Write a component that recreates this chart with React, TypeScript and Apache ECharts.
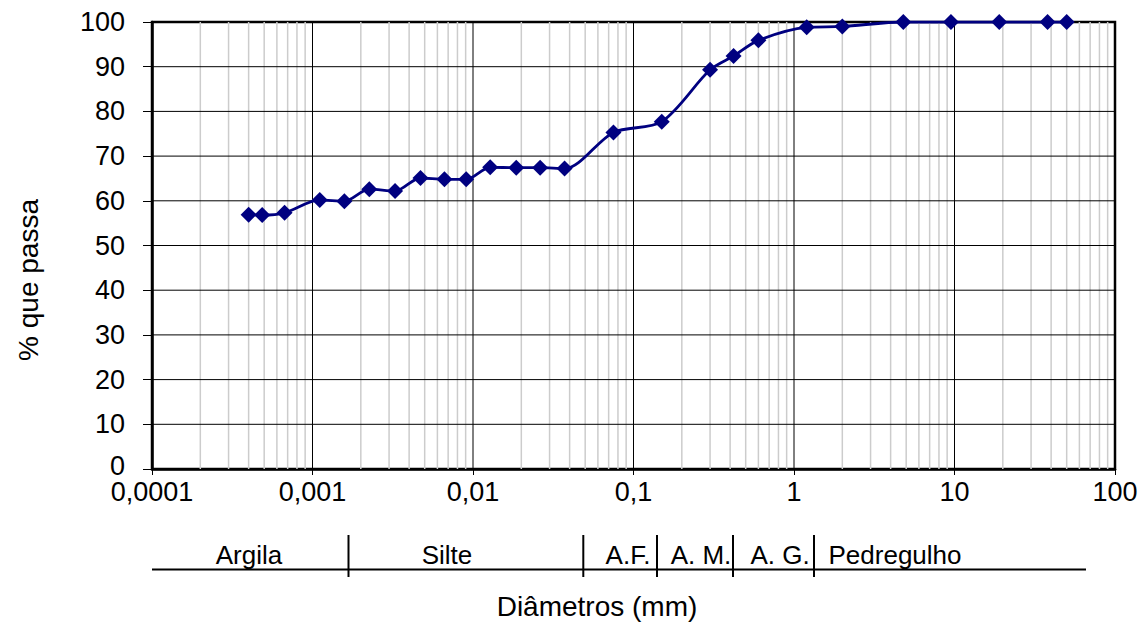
import React, { useEffect, useRef } from "react";
import * as echarts from "echarts";

// Grain-size distribution (diameters in mm, % passing)
const diameters = [0.0004, 0.000486, 0.00067, 0.00111, 0.00158, 0.00226, 0.00327, 0.00471, 0.00664, 0.00907, 0.0128, 0.0186, 0.0262, 0.0372, 0.075, 0.15, 0.3, 0.42, 0.6, 1.2, 2.0, 4.8, 9.5, 19, 38, 50];
const passing = [56.9, 56.8, 57.3, 60.2, 59.9, 62.6, 62.2, 65.1, 64.8, 64.8, 67.5, 67.4, 67.4, 67.2, 75.3, 77.7, 89.3, 92.4, 95.9, 98.8, 99.0, 100, 100, 100, 100, 100];

const xTickLabels = ["0,0001", "0,001", "0,01", "0,1", "1", "10", "100"];
const decades = [0.0001, 0.001, 0.01, 0.1, 1, 10];
const minorFactors = [2, 3, 4, 5, 6, 7, 8, 9];
const yGridValues = [10, 20, 30, 40, 50, 60, 70, 80, 90];

const classLabels = ["Argila", "Silte", "A.F.", "A. M.", "A. G.", "Pedregulho"];

const FONT = "'Liberation Sans', Arial, Helvetica, sans-serif";
const FS = 27;
const TITLE_FS = 28;
const CLASS_FS = 26;

export default function App() {
  const ref = useRef<HTMLDivElement>(null);
  useEffect(() => {
    if (!ref.current) return;
    const chart = echarts.init(ref.current, undefined, { renderer: "svg" });

    // vertical grid lines built as broken line segments (bottom -> top, then gap)
    const minorData: any[] = [];
    decades.forEach((d) => {
      minorFactors.forEach((f) => {
        const v = d * f;
        minorData.push([v, 0], [v, 100], [v, "-"]);
      });
    });
    const majorData: any[] = [];
    decades.slice(1).forEach((d) => {
      majorData.push([d, 0], [d, 100], [d, "-"]);
    });
    const hData: any[] = [];
    yGridValues.forEach((v) => {
      hData.push([0.0001, v], [100, v], [100, "-"]);
    });

    const gridSeries = (data: any[], color: string, width: number, z: number) => ({
      type: "line",
      data,
      silent: true,
      symbol: "none",
      connectNulls: false,
      lineStyle: { color, width, type: "solid" },
      itemStyle: { color },
      z,
    });

    // classification band (drawn below the chart)
    const sepX = [348.5, 583.3, 657, 733, 814];
    const labelX = [249, 447, 628, 701, 780, 895];
    const graphics: any[] = [
      { type: "line", shape: { x1: 152, y1: 569.5, x2: 1086, y2: 569.5 }, style: { stroke: "#000", lineWidth: 2 } },
      ...sepX.map((x) => ({ type: "line", shape: { x1: x, y1: 535, x2: x, y2: 577 }, style: { stroke: "#000", lineWidth: 2 } })),
      ...classLabels.map((t, i) => ({
        type: "text",
        x: labelX[i],
        y: 555,
        style: { text: t, fill: "#000", font: `${CLASS_FS}px ${FONT}`, align: "center", verticalAlign: "middle" },
      })),
      {
        type: "text",
        x: 597,
        y: 606,
        style: { text: "Diâmetros (mm)", fill: "#000", font: `${TITLE_FS}px ${FONT}`, align: "center", verticalAlign: "middle" },
      },
      {
        type: "text",
        x: 28,
        y: 280,
        rotation: Math.PI / 2,
        style: { text: "% que passa", fill: "#000", font: `${TITLE_FS}px ${FONT}`, align: "center", verticalAlign: "middle" },
      },
    ];

    chart.setOption({
      animation: false,
      backgroundColor: "#fff",
      textStyle: { fontFamily: FONT },
      grid: { left: 152, right: 33, top: 22, bottom: 154, show: true, borderColor: "#000", borderWidth: 2.5, backgroundColor: "transparent" },
      xAxis: {
        type: "log",
        logBase: 10,
        min: 0.0001,
        max: 100,
        axisLine: { show: true, lineStyle: { color: "#000", width: 2.5 } },
        axisTick: { show: true, length: 6, lineStyle: { color: "#000", width: 1 } },
        axisLabel: {
          fontSize: FS,
          lineHeight: 22,
          color: "#000",
          fontFamily: FONT,
          margin: 12,
          formatter: (v: number) => xTickLabels[Math.round(Math.log10(v)) + 4] ?? "",
        },
        splitLine: { show: false },
      },
      yAxis: {
        type: "value",
        min: 0,
        max: 100,
        interval: 10,
        axisLine: { show: true, lineStyle: { color: "#000", width: 2.5 } },
        axisTick: { show: true, inside: false, length: 9, lineStyle: { color: "#000", width: 1 } },
        axisLabel: {
          fontSize: FS,
          lineHeight: 22,
          color: "#000",
          fontFamily: FONT,
          margin: 27,
          formatter: (v: number) => (v === 0 ? "{z|0}" : String(v)),
          rich: { z: { fontSize: FS, lineHeight: 22, fontFamily: FONT, color: "#000", padding: [0, 0, 6, 0] } },
        },
        splitLine: { show: false },
      },
      series: [
        gridSeries(minorData, "#cccccc", 1.5, 0),
        gridSeries(majorData, "#000000", 1, 1),
        gridSeries(hData, "#000000", 1, 1),
        {
          type: "line",
          data: diameters.map((d, i) => [d, passing[i]]),
          smooth: 0.3,
          symbol: "diamond",
          symbolSize: 16,
          itemStyle: { color: "#000080" },
          lineStyle: { color: "#000080", width: 2.8 },
          z: 5,
        },
      ],
      graphic: graphics,
    });
    return () => chart.dispose();
  }, []);
  return <div ref={ref} style={{ width: 1148, height: 623, position: "absolute", left: 0, top: 0 }} />;
}
